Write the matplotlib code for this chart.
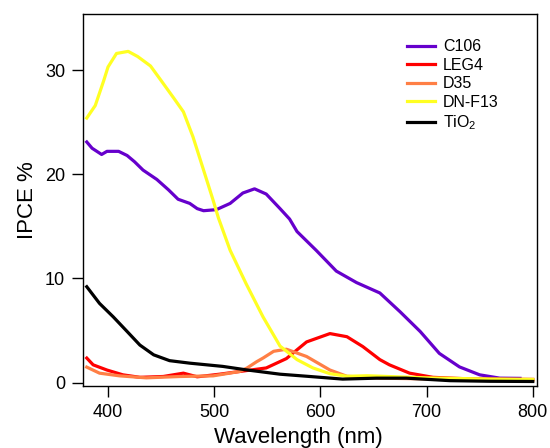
import matplotlib
matplotlib.use("Agg")
import matplotlib.pyplot as plt

plt.rcParams["font.family"] = ["Liberation Sans", "DejaVu Sans"]
plt.rcParams["mathtext.default"] = "regular"

# C106 (purple)
c106_x = [380, 385, 394, 399, 410, 418, 425, 433, 446, 457, 466, 477, 484, 490,
          502, 515, 527, 538, 549, 562, 571, 578, 596, 615, 634, 656, 675, 694,
          712, 731, 750, 769, 788]
c106_y = [23.1, 22.5, 21.9, 22.2, 22.2, 21.8, 21.2, 20.4, 19.5, 18.5, 17.6, 17.2,
          16.7, 16.5, 16.6, 17.2, 18.2, 18.6, 18.1, 16.7, 15.7, 14.5, 12.7, 10.7,
          9.6, 8.6, 6.8, 4.9, 2.8, 1.5, 0.74, 0.42, 0.4]

# LEG4 (red)
leg4_x = [380, 386, 399, 414, 430, 452, 471, 484, 505, 524, 549, 568, 587, 609,
          625, 640, 656, 665, 684, 706, 740, 800]
leg4_y = [2.35, 1.7, 1.2, 0.74, 0.5, 0.58, 0.9, 0.55, 0.8, 1.06, 1.4, 2.3, 3.9,
          4.7, 4.4, 3.45, 2.2, 1.7, 0.9, 0.5, 0.35, 0.3]

# D35 (orange)
d35_x = [380, 392, 411, 436, 468, 499, 524, 531, 540, 546, 556, 568, 587, 609,
         625, 656, 700, 750, 800]
d35_y = [1.48, 0.9, 0.64, 0.45, 0.58, 0.64, 1.06, 1.4, 2.0, 2.35, 3.0, 3.2, 2.5,
         1.2, 0.6, 0.42, 0.35, 0.25, 0.2]

# DN-F13 (yellow)
dnf13_x = [380, 388, 396, 400, 408, 419, 428, 440, 450, 462, 471, 480, 490, 499,
           504, 515, 530, 546, 562, 578, 593, 609, 625, 644, 700, 750, 800]
dnf13_y = [25.4, 26.6, 29.0, 30.3, 31.6, 31.8, 31.3, 30.4, 29.0, 27.3, 26.0, 23.6,
           20.4, 17.5, 15.8, 12.7, 9.5, 6.3, 3.5, 2.2, 1.4, 0.85, 0.6, 0.65, 0.45,
           0.35, 0.3]

# TiO2 (black)
tio2_x = [380, 392, 405, 418, 430, 443, 458, 477, 508, 530, 562, 590, 621, 653,
          681, 722, 760, 800]
tio2_y = [9.2, 7.6, 6.3, 4.9, 3.6, 2.66, 2.1, 1.86, 1.55, 1.22, 0.8, 0.58, 0.33,
          0.42, 0.42, 0.18, 0.12, 0.1]

series = [
    ("C106", c106_x, c106_y, "#6600cc"),
    ("LEG4", leg4_x, leg4_y, "#ff0000"),
    ("D35", d35_x, d35_y, "#ff7f45"),
    ("DN-F13", dnf13_x, dnf13_y, "#ffff22"),
    ("TiO$_2$", tio2_x, tio2_y, "#000000"),
]

fig = plt.figure(figsize=(5.5, 4.48), dpi=100)
ax = fig.add_axes([0.151, 0.138, 0.825, 0.831])

for label, xs, ys, color in series:
    ax.plot(xs, ys, color=color, lw=2.3, label=label)

ax.set_xlim(376.5, 803.8)
ax.set_ylim(-0.35, 35.4)
ax.set_xticks([400, 500, 600, 700, 800])
ax.set_yticks([0, 10, 20, 30])
ax.tick_params(direction="out", length=8, width=1, labelsize=13, pad=5,
               top=False, right=False)
for sp in ax.spines.values():
    sp.set_linewidth(1)

ax.set_xlabel("Wavelength (nm)", fontsize=16)
ax.set_ylabel("IPCE %", fontsize=16)
ax.xaxis.set_label_coords(0.475, -0.11)
ax.yaxis.set_label_coords(-0.10, 0.5)

ax.legend(loc="upper left", bbox_to_anchor=(0.714, 0.932), frameon=False,
          fontsize=11.5, handlelength=1.75, handletextpad=0.5, labelspacing=0.22,
          borderpad=0, borderaxespad=0)

fig.savefig("out.png", dpi=100)
plt.close(fig)
